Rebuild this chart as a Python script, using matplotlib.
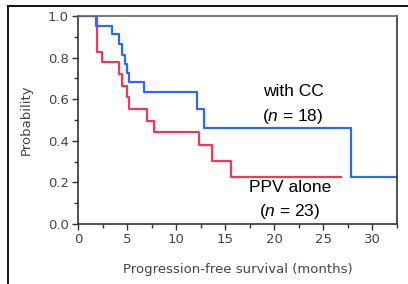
import matplotlib
matplotlib.use("Agg")
import matplotlib.pyplot as plt
from matplotlib.lines import Line2D
from matplotlib.ticker import MultipleLocator

plt.rcParams["mathtext.fontset"] = "custom"
plt.rcParams["mathtext.rm"] = "Liberation Sans"
plt.rcParams["mathtext.it"] = "Liberation Sans:italic"

# Kaplan-Meier step data (time in months, survival probability)
cc_time = [0, 1.83, 3.49, 4.17, 4.5, 4.78, 5.0, 5.2, 6.7, 12.1, 12.8, 27.8, 32.5]
cc_prob = [1.0, 0.953, 0.912, 0.864, 0.8125, 0.77, 0.727, 0.684, 0.636, 0.553, 0.46, 0.227, 0.227]

ppv_time = [0, 1.97, 2.4, 4.2, 4.44, 5.0, 5.2, 7.05, 7.73, 12.3, 13.7, 15.6, 26.8]
ppv_prob = [1.0, 0.828, 0.777, 0.721, 0.663, 0.609, 0.553, 0.497, 0.441, 0.38, 0.303, 0.224, 0.224]

x_ticks = [0, 5, 10, 15, 20, 25, 30]
y_ticks = [0.0, 0.2, 0.4, 0.6, 0.8, 1.0]

fig = plt.figure(figsize=(4.08, 2.84), dpi=100)
ax = fig.add_axes([78/408, 1-224/284, (397-78)/408, (224-16)/284])

ax.step(ppv_time, ppv_prob, where="post", color="#f03a55", lw=1.6)
ax.step(cc_time, cc_prob, where="post", color="#3068f2", lw=1.6)

ax.set_xlim(0, 32.5)
ax.set_ylim(0, 1.0)
ax.set_xticks(x_ticks)
ax.set_yticks(y_ticks)
ax.set_yticklabels([f"{v:.1f}" for v in y_ticks])
ax.xaxis.set_minor_locator(MultipleLocator(2.5))
ax.yaxis.set_minor_locator(MultipleLocator(0.1))
ax.tick_params(which="both", direction="out", colors="#333333", labelcolor="#444444",
               labelsize=9.5, width=1)
ax.tick_params(which="major", length=4.5, pad=2)
ax.tick_params(which="minor", length=3)
for s in ax.spines.values():
    s.set_color("#333333")
    s.set_linewidth(1.2)
ax.spines["top"].set_color("#666666")

ax.set_xlabel("Progression-free survival (months)", fontsize=9.5, color="#444444", labelpad=12)
ax.set_ylabel("Probability", fontsize=9.5, color="#444444", labelpad=11)

tf = dict(family=["Liberation Sans", "DejaVu Sans"], fontsize=12.5, ha="center", va="center")
ax.text(21.9, 0.635, "with CC", **tf)
ax.text(21.9, 0.515, r"($\mathit{n}$ = 18)", **tf)
ax.text(21.6, 0.175, "PPV alone", **tf)
ax.text(21.6, 0.058, r"($\mathit{n}$ = 23)", **tf)

# figure frame lines (top and left)
fig.add_artist(Line2D([8/408, 1.0], [1-6/284, 1-6/284], transform=fig.transFigure,
                      color="black", lw=1.3))
fig.add_artist(Line2D([8/408, 8/408], [0, 1-6/284], transform=fig.transFigure,
                      color="black", lw=1.3))

fig.savefig("out.png", dpi=100)
